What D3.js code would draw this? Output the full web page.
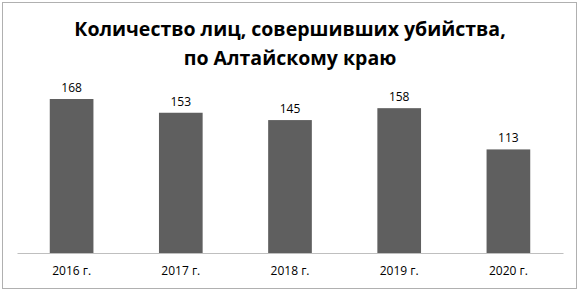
<!DOCTYPE html>
<html>
<head>
<meta charset="utf-8">
<script src="https://cdn.jsdelivr.net/npm/d3@7"></script>
<style>
  body { margin: 0; background: #fff; }
</style>
</head>
<body>
<script>
// data
var years = ["2016 г.", "2017 г.", "2018 г.", "2019 г.", "2020 г."];
var counts = [168, 153, 145, 158, 113];
var titleLines = ["Количество лиц, совершивших убийства,", "по Алтайскому краю"];

var width = 581, height = 292;

var svg = d3.select("body").append("svg")
    .attr("width", width)
    .attr("height", height);

// outer frame
svg.append("rect")
    .attr("x", 2.5).attr("y", 2.5)
    .attr("width", 574).attr("height", 286)
    .attr("fill", "#fff")
    .attr("stroke", "#b0b0b0")
    .attr("stroke-width", 1);

// title
svg.selectAll("text.title")
    .data(titleLines)
    .enter().append("text")
    .attr("class", "title")
    .attr("x", 290)
    .attr("y", function (d, i) { return 36 + i * 29; })
    .attr("text-anchor", "middle")
    .attr("font-family", "'Open Sans', sans-serif")
    .attr("font-weight", "bold")
    .attr("font-size", "19.5px")
    .attr("fill", "#000")
    .text(function (d) { return d; });

// scales
var x = d3.scaleBand()
    .domain(years)
    .range([17, 563])
    .paddingInner(0.6)
    .paddingOuter(0.3);

var y = d3.scaleLinear()
    .domain([0, 180])
    .range([253, 88]);

// bars
svg.selectAll("rect.bar")
    .data(counts)
    .enter().append("rect")
    .attr("class", "bar")
    .attr("x", function (d, i) { return x(years[i]); })
    .attr("y", function (d) { return y(d); })
    .attr("width", x.bandwidth())
    .attr("height", function (d) { return y(0) - y(d); })
    .attr("fill", "#5f5f5f");

// value labels
svg.selectAll("text.value")
    .data(counts)
    .enter().append("text")
    .attr("class", "value")
    .attr("x", function (d, i) { return x(years[i]) + x.bandwidth() / 2; })
    .attr("y", function (d) { return y(d) - 7; })
    .attr("text-anchor", "middle")
    .attr("font-family", "'Open Sans', sans-serif")
    .attr("font-size", "12px")
    .attr("fill", "#000")
    .text(function (d) { return d; });

// x axis
var xAxis = svg.append("g")
    .attr("transform", "translate(0," + y(0) + ")")
    .call(d3.axisBottom(x).tickSize(0).tickPadding(13));

xAxis.select(".domain")
    .attr("stroke", "#bfbfbf")
    .attr("stroke-width", 1);

xAxis.selectAll("text")
    .attr("font-family", "'Open Sans', sans-serif")
    .attr("font-size", "12px")
    .attr("fill", "#000");
</script>
</body>
</html>
